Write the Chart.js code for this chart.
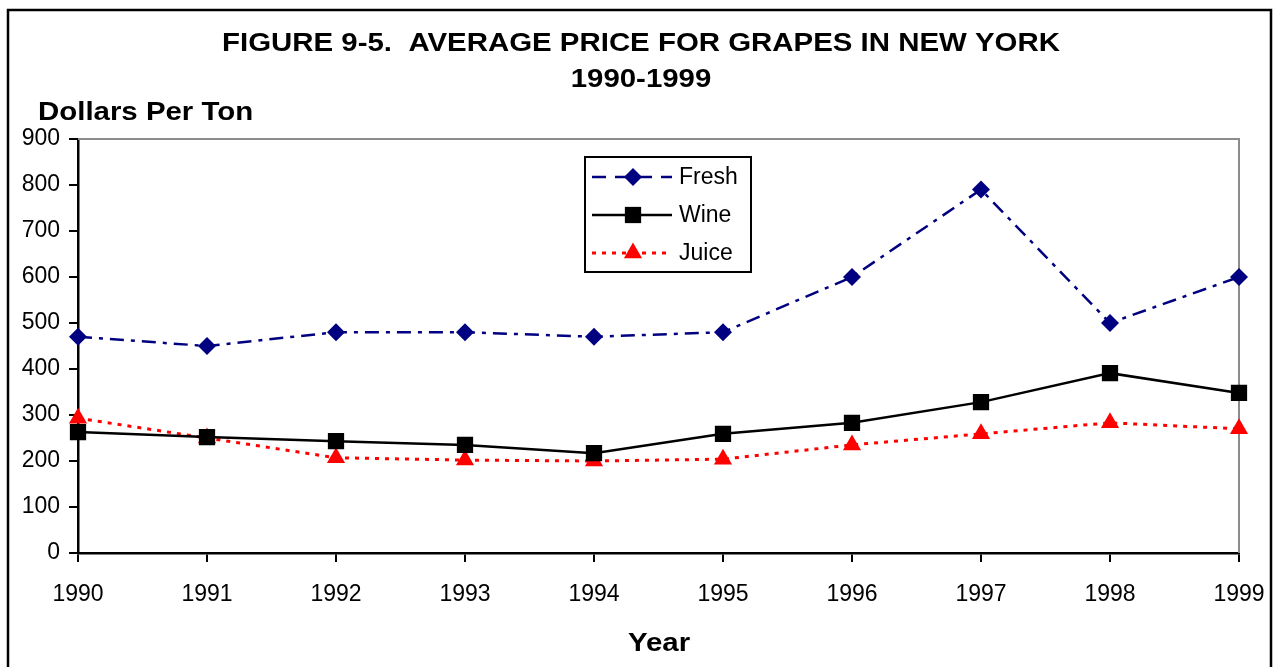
<!DOCTYPE html>
<html>
<head>
<meta charset="utf-8">
<script src="https://cdn.jsdelivr.net/npm/chart.js@4.4.9/dist/chart.umd.min.js"></script>
<style>
  html, body { margin:0; padding:0; background:#fff; }
  #wrap { width:1274px; height:667px; }
</style>
</head>
<body>
<div id="wrap"><canvas id="c" width="1274" height="667"></canvas></div>
<script>
/* data */
const years = ['1990','1991','1992','1993','1994','1995','1996','1997','1998','1999'];
const fresh = [470, 450, 480, 480, 470, 480, 600, 790, 500, 600];
const wine  = [263, 252, 243, 235, 217, 259, 283, 328, 391, 348];
const juice = [293, 250, 207, 202, 200, 204, 235, 259, 283, 270];

const titleLines = ['FIGURE 9-5.  AVERAGE PRICE FOR GRAPES IN NEW YORK', '1990-1999'];
const yTitle = 'Dollars Per Ton';
const xTitle = 'Year';

const FONT = '"Liberation Sans", Arial, sans-serif';

/* series styles */
const series = [
  { label:'Fresh', data:fresh, color:'#000080', dash:[14,7,4,7], width:2.5, style:'rectRot', radius:9 },
  { label:'Wine',  data:wine,  color:'#000000', dash:[],          width:2.5, style:'rect',    radius:11.5 },
  { label:'Juice', data:juice, color:'#FF0000', dash:[4,6],       width:3,   style:'triangle', radius:10.5 }
];

/* marker drawing for the hand-made legend */
const marker = (ctx, style, r, x, y, color) => {
  ctx.save();
  ctx.fillStyle = color;
  ctx.beginPath();
  if (style === 'rect') {
    const s = Math.SQRT1_2 * r;
    ctx.rect(x - s, y - s, 2*s, 2*s);
  } else if (style === 'rectRot') {
    ctx.moveTo(x - r, y); ctx.lineTo(x, y - r); ctx.lineTo(x + r, y); ctx.lineTo(x, y + r);
  } else {
    const a = Math.PI/2, b = 2*Math.PI/3;
    ctx.moveTo(x + Math.cos(-a)*r, y + Math.sin(-a)*r);
    ctx.lineTo(x + Math.cos(-a+b)*r, y + Math.sin(-a+b)*r);
    ctx.lineTo(x + Math.cos(-a-b)*r, y + Math.sin(-a-b)*r);
  }
  ctx.closePath();
  ctx.fill();
  ctx.restore();
};

// bold text, a little wider than the font draws it (the source is stretched)
const wideText = (ctx, txt, x, y, align) => {
  ctx.save();
  ctx.translate(x, y);
  ctx.scale(1.11, 1);
  ctx.textAlign = align;
  ctx.fillText(txt, 0, 0);
  ctx.restore();
};

const decor = {
  id:'decor',
  beforeDatasetsDraw(chart) {
    const { ctx, chartArea:a } = chart;
    ctx.save();
    // gray plot frame top + right
    ctx.strokeStyle = '#8c8c8c';
    ctx.lineWidth = 2;
    ctx.beginPath();
    ctx.moveTo(a.left, a.top); ctx.lineTo(a.right, a.top); ctx.lineTo(a.right, a.bottom);
    ctx.stroke();
    ctx.restore();
  },
  afterDraw(chart) {
    const { ctx } = chart;
    ctx.save();
    // outer frame
    ctx.strokeStyle = '#000';
    ctx.lineWidth = 2.5;
    ctx.beginPath();
    ctx.moveTo(8, 680); ctx.lineTo(8, 10); ctx.lineTo(1271, 10); ctx.lineTo(1271, 680);
    ctx.stroke();

    // titles
    ctx.fillStyle = '#000';
    ctx.textBaseline = 'middle';
    ctx.font = 'bold 26.5px ' + FONT;
    wideText(ctx, titleLines[0], 641, 44, 'center');
    wideText(ctx, titleLines[1], 641, 80, 'center');
    wideText(ctx, xTitle, 659, 644, 'center');
    wideText(ctx, yTitle, 38, 113, 'left');

    // legend
    const lx = 585, ly = 157, lw = 166, lh = 115;
    ctx.fillStyle = '#fff';
    ctx.fillRect(lx, ly, lw, lh);
    ctx.strokeStyle = '#000';
    ctx.lineWidth = 2;
    ctx.strokeRect(lx, ly, lw, lh);
    series.forEach((s, i) => {
      const y = 177 + i*38;
      ctx.strokeStyle = s.color;
      ctx.lineWidth = s.width;
      ctx.setLineDash(i === 0 ? [14,9] : s.dash);
      ctx.beginPath(); ctx.moveTo(592, y); ctx.lineTo(672, y); ctx.stroke();
      ctx.setLineDash([]);
      marker(ctx, s.style, s.radius, 633, y, s.color);
      ctx.fillStyle = '#000';
      ctx.font = '23px ' + FONT;
      ctx.textAlign = 'left';
      ctx.fillText(s.label, 679, y + 1);
    });
    ctx.restore();
  }
};

new Chart(document.getElementById('c').getContext('2d'), {
  type:'line',
  data:{
    labels:years,
    datasets:series.map(s => ({
      label:s.label, data:s.data,
      borderColor:s.color, backgroundColor:s.color,
      borderWidth:s.width, borderDash:s.dash,
      pointStyle:s.style, pointRadius:s.radius, pointBorderWidth:0,
      pointBackgroundColor:s.color, tension:0
    }))
  },
  options:{
    responsive:false, animation:false,
    layout:{ padding:{ top:139, right:35, left:0, bottom:0 } },
    plugins:{ legend:{display:false}, title:{display:false}, tooltip:{enabled:false} },
    scales:{
      x:{
        offset:false,
        grid:{ drawOnChartArea:false, drawTicks:true, tickLength:9, color:'#000', lineWidth:2 },
        border:{ color:'#000', width:2.5 },
        ticks:{ color:'#000', font:{ family:FONT, size:23 }, padding:19, maxRotation:0, autoSkip:false },
        afterFit: s => { s.height = 114; s.paddingRight = 0; }
      },
      y:{
        min:0, max:900,
        grid:{ drawOnChartArea:false, drawTicks:true, tickLength:9, color:'#000', lineWidth:2 },
        border:{ color:'#000', width:2.5 },
        ticks:{ stepSize:100, color:'#000', font:{ family:FONT, size:23 }, padding:9 },
        afterFit: s => { s.width = 78; }
      }
    }
  },
  plugins:[decor]
});
</script>
</body>
</html>
